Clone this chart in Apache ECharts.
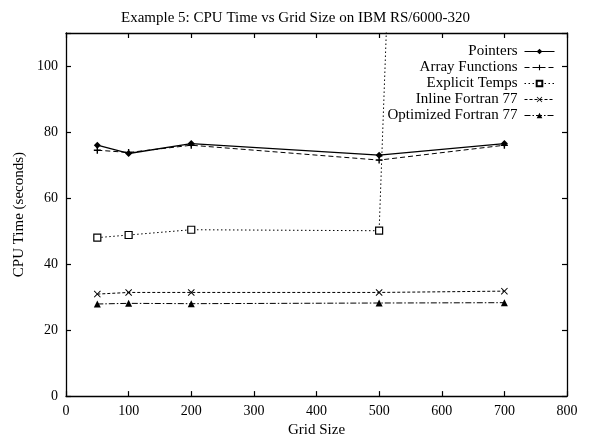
<!DOCTYPE html>
<html>
<head>
<meta charset="utf-8">
<script src="https://cdn.jsdelivr.net/npm/echarts@6/dist/echarts.min.js"></script>
<style>html,body{margin:0;padding:0;background:#fff}#c{width:591px;height:443px}</style>
</head>
<body>
<div id="c"></div>
<script>
var gridSizes = [50, 100, 200, 500, 700];
var pointers = [76, 73.5, 76.5, 73, 76.5];
var arrayFunctions = [74.5, 73.8, 76, 71.5, 76];
var explicitTemps = [48, 48.8, 50.4, 50.1, 1100];
var inlineF77 = [30.9, 31.4, 31.4, 31.4, 31.8];
var optimizedF77 = [27.9, 28.1, 28, 28.2, 28.3];
var seriesNames = ['Pointers', 'Array Functions', 'Explicit Temps', 'Inline Fortran 77', 'Optimized Fortran 77'];
var xTicks = [0, 100, 200, 300, 400, 500, 600, 700, 800];
var yTicks = [0, 20, 40, 60, 80, 100];

var FONT = '"Liberation Serif", "DejaVu Serif", serif';
var plusPath = 'path://M4,0H6V4H10V6H6V10H4V6H0V4H4Z';
var crossPath = 'path://M1,0L5,4L9,0L10,1L6,5L10,9L9,10L5,6L1,10L0,9L4,5L0,1Z';

function pairs(vals) { return gridSizes.map(function (x, i) { return [x, vals[i]]; }); }

var defs = [
  { data: pointers, symbol: 'diamond', size: 7, line: 'solid', fill: '#000', width: 1.3 },
  { data: arrayFunctions, symbol: plusPath, size: 7, line: [5, 3], fill: '#000', width: 1 },
  { data: explicitTemps, symbol: 'rect', size: 7, line: [1.5, 2.5], fill: '#fff', width: 1 },
  { data: inlineF77, symbol: crossPath, size: 7, line: [3, 2], fill: '#000', width: 1 },
  { data: optimizedF77, symbol: 'triangle', size: 7, line: [6, 2, 1.5, 2], fill: '#000', width: 1 }
];

var series = defs.map(function (d, i) {
  return {
    name: seriesNames[i], type: 'line', data: pairs(d.data),
    symbol: d.symbol, symbolSize: d.size, clip: true, animation: false,
    lineStyle: { color: '#000', width: d.width, type: d.line },
    itemStyle: { color: d.fill, borderColor: '#000', borderWidth: d.fill === '#fff' ? 1.2 : 0 }
  };
});

var legends = seriesNames.map(function (n, i) {
  return {
    data: [n], orient: 'vertical', align: 'right', right: 36, top: 44 + i * 16,
    itemWidth: 30, itemHeight: 7, itemGap: 0, padding: 0,
    lineStyle: { width: 1 },
    textStyle: { fontFamily: FONT, fontSize: 15, color: '#000', padding: [0, 2, 0, 0] },
    selectedMode: false
  };
});

function axisCommon(onZero) {
  return {
    axisLine: { show: true, onZero: onZero, lineStyle: { color: '#000', width: 1.3 } },
    axisTick: { show: true, inside: true, length: 5, lineStyle: { color: '#000', width: 1.2 } },
    splitLine: { show: false }
  };
}

var option = {
  backgroundColor: '#fff',
  animation: false,
  title: {
    text: 'Example 5: CPU Time vs Grid Size on IBM RS/6000-320',
    left: 'center', top: 6,
    textStyle: { fontFamily: FONT, fontSize: 15, fontWeight: 'normal', color: '#000' }
  },
  legend: legends,
  grid: { left: 66, right: 24, top: 33, bottom: 39, containLabel: false },
  xAxis: [
    Object.assign({
      type: 'value', position: 'bottom', min: xTicks[0], max: xTicks[xTicks.length - 1], interval: 100,
      name: 'Grid Size', nameLocation: 'middle', nameGap: 26,
      nameTextStyle: { fontFamily: FONT, fontSize: 15, color: '#000' },
      axisLabel: { fontFamily: FONT, fontSize: 14, color: '#000', margin: 8 }
    }, axisCommon(false)),
    Object.assign({
      type: 'value', position: 'top', min: xTicks[0], max: xTicks[xTicks.length - 1], interval: 100,
      axisLabel: { show: false }
    }, axisCommon(false))
  ],
  yAxis: [
    Object.assign({
      type: 'value', position: 'left', min: yTicks[0], max: 110, interval: 20,
      name: 'CPU Time (seconds)', nameLocation: 'middle', nameGap: 31,
      nameTextStyle: { fontFamily: FONT, fontSize: 15, color: '#000' },
      axisLabel: { fontFamily: FONT, fontSize: 14, color: '#000', margin: 8,
        formatter: function (v) { return v > yTicks[yTicks.length - 1] ? '' : String(v); } }
    }, axisCommon(false)),
    Object.assign({
      type: 'value', position: 'right', min: yTicks[0], max: 110, interval: 20,
      axisLabel: { show: false }
    }, axisCommon(false))
  ],
  series: series
};

var chart = echarts.init(document.getElementById('c'), null, { renderer: 'canvas' });
chart.setOption(option);
</script>
</body>
</html>
